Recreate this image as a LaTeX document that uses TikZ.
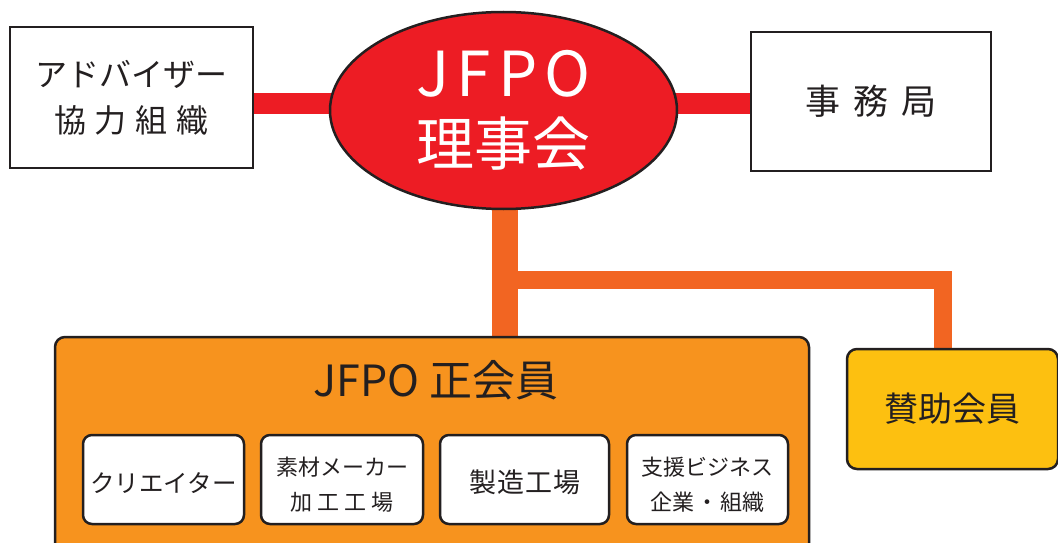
\documentclass[tikz,border=0pt]{standalone}
\usepackage{fontspec}
\setmainfont{Noto Sans CJK JP}
\usetikzlibrary{shapes.geometric}
\usetikzlibrary{backgrounds}

\definecolor{ink}{HTML}{231F20}
\definecolor{boardred}{HTML}{ED1C24}
\definecolor{branch}{HTML}{F26522}
\definecolor{regular}{HTML}{F7931E}
\definecolor{support}{HTML}{FDC010}

% text of a small box, set a little below its centre
\newcommand{\drop}[1]{\raisebox{-6pt}[\height][\depth]{\begin{tabular}{@{}c@{}}#1\end{tabular}}}

\begin{document}
\begin{tikzpicture}[x = 1pt, y = -1pt,
        outer/.style = {shape = rectangle, draw = ink, line width = 2.5pt, fill = white, text = ink, inner sep = 0pt, align = center},
        chair/.style = {shape = ellipse, draw = ink, line width = 2.5pt, fill = boardred, text = white, inner sep = 0pt, align = center, minimum width = 347pt, minimum height = 197pt},
        member/.style = {shape = rectangle, rounded corners = 10pt, draw = ink, line width = 2.5pt, text = ink, inner sep = 0pt, align = center},
        group/.style = {shape = rectangle, rounded corners = 9pt, draw = ink, line width = 2.5pt, fill = white, text = ink, inner sep = 0pt, minimum height = 89pt, font = \fontsize{22}{35}\selectfont},
        redline/.style = {draw = boardred, line width = 21pt},
        orangeline/.style = {draw = branch, line width = 18pt},
    ]
    \useasboundingbox (0,0) rectangle (1058,543);
    \clip (0,0) rectangle (1058,543);

    \node[outer, minimum width = 243pt, minimum height = 141pt, font = \fontsize{32}{46}\selectfont] (advisor) at (131.5, 97.5) {アドバイザー\\協\hspace{9pt}力\hspace{9pt}組\hspace{9pt}織};
    \node[outer, minimum width = 240pt, minimum height = 139pt, font = \fontsize{35}{40}\selectfont] (office) at (871, 101.5) {事\hspace{13pt}務\hspace{13pt}局};
    \node[chair, font = \fontsize{58}{69}\selectfont] (board) at (503.5, 110.5) {{\fontsize{62}{69}\selectfont J\kern7pt F\kern7pt P\kern7pt O}\\理事会};

    \node[member, fill = regular, minimum width = 754pt, minimum height = 230pt] (regular) at (432, 452) {};
    \node[text = ink, inner sep = 0pt, font = \fontsize{43}{50}\selectfont] (regtitle) at (436, 380) {JFPO 正会員};
    \node[group, minimum width = 161pt, font = \fontsize{24.5}{35}\selectfont] (creator) at (163.5, 479.5) {\drop{クリエイター}};
    \node[group, minimum width = 162pt] (maker) at (342, 479.5) {\drop{素材メーカー\\加\hspace{5pt}工\hspace{5pt}工\hspace{5pt}場}};
    \node[group, minimum width = 169pt, font = \fontsize{27}{30}\selectfont] (factory) at (524.5, 479.5) {\drop{製\hspace{1pt}造\hspace{1pt}工\hspace{1pt}場}};
    \node[group, minimum width = 161pt] (service) at (707.5, 479.5) {\drop{支援ビジネス\\企業\hspace{2pt}・\hspace{2pt}組織}};

    \node[member, fill = support, minimum width = 211pt, minimum height = 120pt, font = \fontsize{34}{40}\selectfont] (sponsor) at (952.5, 409) {賛助会員};

    \coordinate (fork) at (505, 280);

    \begin{pgfonlayer}{background}
        \path[redline] ([yshift = -6pt]advisor.east) -- ([yshift = -6pt]advisor.east -| office.west);
        \path[draw = branch, line width = 26pt] (board.south -| fork) -- (fork |- regular.north);
        \path[orangeline] (fork) -| ([xshift = -10pt]sponsor.north);
    \end{pgfonlayer}
\end{tikzpicture}
\end{document}
